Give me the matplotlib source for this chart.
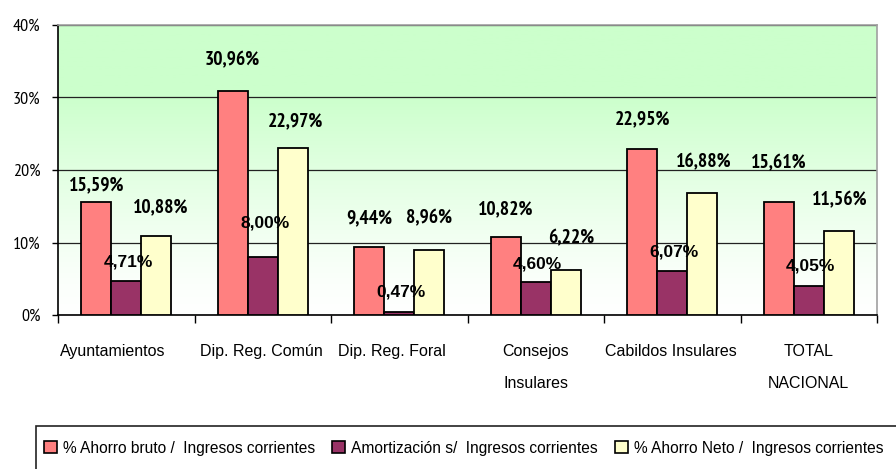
import numpy as np
import matplotlib
matplotlib.use('Agg')
import matplotlib.pyplot as plt
from matplotlib.patches import Patch, Rectangle

narrow = ['PT Sans Narrow', 'Archivo Narrow', 'DejaVu Sans']
narrow_b = ['PT Sans Narrow', 'Barlow Semi Condensed', 'DejaVu Sans']

categorias = ['Ayuntamientos', 'Dip. Reg. Común', 'Dip. Reg. Foral',
              'Consejos\nInsulares', 'Cabildos Insulares', 'TOTAL\nNACIONAL']
series = ['% Ahorro bruto /  Ingresos corrientes',
          'Amortización s/  Ingresos corrientes',
          '% Ahorro Neto /  Ingresos corrientes']
ahorro_bruto = [15.59, 30.96, 9.44, 10.82, 22.95, 15.61]
amortizacion = [4.71, 8.00, 0.47, 4.60, 6.07, 4.05]
ahorro_neto = [10.88, 22.97, 8.96, 6.22, 16.88, 11.56]
colores = ['#FF8080', '#993366', '#FFFFCC']

# label offsets (pixels above bar top), placed by hand like in the excel chart
off_bruto = [17, 30, 28, 27, 29, 39]
off_amort = [19, 34, 20, 18, 19, 20]
off_neto = [29, 27, 32, 32, 30, 31]
dx_neto = [4, 3, 0, 5, 1, 1]
dx_cat = [-14, -1, -7, 0, -1, 0]

fig = plt.figure(figsize=(8.96, 4.69), dpi=100)
ax = fig.add_axes([58/896, 1-315/469, (877-58)/896, (315-25)/469])

# green -> white background
t = np.linspace(0, 1, 256).reshape(-1, 1)
f = np.clip(t/0.75, 0, 1)**1.3
green = np.array([0.80, 1.0, 0.80])
img = (1-f)[..., None]*np.ones(3) + f[..., None]*green
ax.imshow(img, extent=[-0.5, 5.5, 0, 40], origin='lower', aspect='auto', zorder=0)

x = np.arange(len(categorias))
w = 0.22
for k, (vals, offs) in enumerate([(ahorro_bruto, off_bruto), (amortizacion, off_amort), (ahorro_neto, off_neto)]):
    xs = x + (k-1)*w
    ax.bar(xs, vals, w, color=colores[k], edgecolor='black', linewidth=1.3, zorder=3, label=series[k])
    for i, v in enumerate(vals):
        txt = f'{v:.2f}%'.replace('.', ',')
        if k == 1:
            ax.annotate(txt, (xs[i], v), xytext=(2, offs[i]), textcoords='offset pixels',
                        ha='center', va='center', fontsize=12.5, fontweight='bold',
                        family='Liberation Sans', zorder=5)
        else:
            dx = dx_neto[i] if k == 2 else 0
            ax.annotate(txt, (xs[i], v), xytext=(dx, offs[i]), textcoords='offset pixels',
                        ha='center', va='center', fontsize=14, fontweight='bold',
                        family=narrow_b, zorder=5)

ax.set_xlim(-0.5, 5.5)
ax.set_ylim(0, 40)
ax.set_yticks([0, 10, 20, 30, 40])
ax.set_yticklabels(['0%', '10%', '20%', '30%', '40%'], family=narrow, fontsize=13)
ax.yaxis.grid(True, color='#222222', linewidth=0.9, zorder=1)
ax.set_axisbelow(True)

ax.set_xticks(np.arange(-0.5, 6, 1))
ax.set_xticklabels([])
ax.tick_params(axis='x', length=6, width=1, direction='out')
ax.tick_params(axis='y', length=4.5, width=1, direction='out', pad=8)
for i, c in enumerate(categorias):
    ax.annotate(c, (i, -4.05), xytext=(dx_cat[i], 0), textcoords='offset pixels',
                ha='center', va='top', family='Liberation Sans', fontsize=11.5,
                linespacing=2.35, annotation_clip=False)

for s in ['top', 'right']:
    ax.spines[s].set_color('#A0A0A0')
    ax.spines[s].set_linewidth(1.2)
for s in ['left', 'bottom']:
    ax.spines[s].set_color('black')
    ax.spines[s].set_linewidth(1.2)

# legend box runs off the right and bottom edge, like the original
fig.patches.append(Rectangle((36/896, -0.05), 0.99, 0.05 + 1-426/469, transform=fig.transFigure,
                             facecolor='none', edgecolor='#222222', linewidth=1.2))
handles = [Patch(facecolor=c, edgecolor='black', linewidth=1.2) for c in colores]
leg = fig.legend(handles, series, loc='center left', bbox_to_anchor=(44/896, 1-448/469),
                 ncol=3, frameon=False, prop={'family': 'Liberation Sans', 'size': 11.2},
                 handlelength=0.82, handleheight=0.82, handletextpad=0.4,
                 columnspacing=1.1, borderpad=0, borderaxespad=0)

fig.savefig('out.png', dpi=100)
